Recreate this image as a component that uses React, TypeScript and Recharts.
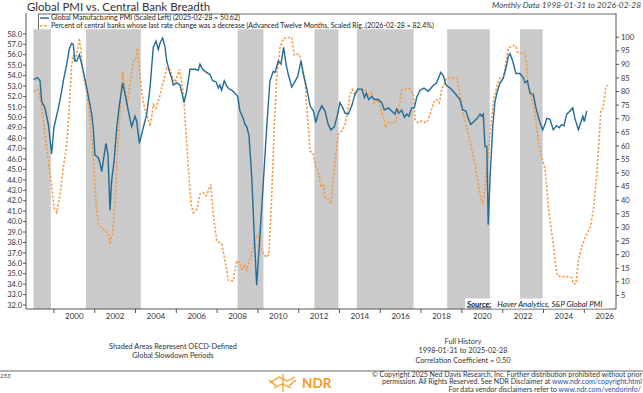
import React from 'react';
import { ComposedChart, Line, XAxis, YAxis, ReferenceArea } from 'recharts';

// Global Manufacturing PMI, [decimal year, value] — left scale
const pmiSeries: [number, number][] = [
  [1998.0, 53.6], [1998.19, 53.8], [1998.32, 53.5], [1998.4, 51.5], [1998.56, 50.9], [1998.73, 49.3],
  [1998.89, 46.5], [1999.0, 49.0], [1999.22, 50.9], [1999.38, 52.5], [1999.46, 53.5], [1999.63, 55.1],
  [1999.76, 56.6], [1999.87, 57.1], [1999.95, 57.0], [2000.03, 55.4], [2000.12, 55.4], [2000.25, 56.0],
  [2000.36, 55.1], [2000.48, 54.1], [2000.61, 52.8], [2000.77, 51.2], [2000.85, 50.3], [2000.93, 49.0],
  [2001.01, 46.4], [2001.18, 46.1], [2001.26, 45.6], [2001.34, 44.8], [2001.42, 45.8], [2001.55, 47.5],
  [2001.65, 46.4], [2001.75, 41.1], [2001.83, 43.9], [2001.95, 45.8], [2002.08, 49.0], [2002.21, 51.2],
  [2002.37, 53.3], [2002.49, 52.2], [2002.65, 50.6], [2002.81, 49.1], [2002.98, 50.1], [2003.06, 49.6],
  [2003.19, 47.5], [2003.38, 49.0], [2003.55, 50.3], [2003.71, 52.8], [2003.87, 56.7], [2004.0, 57.3],
  [2004.12, 56.5], [2004.2, 57.1], [2004.33, 57.6], [2004.45, 56.7], [2004.53, 55.4], [2004.66, 54.4],
  [2004.77, 53.8], [2004.85, 53.1], [2005.02, 53.3], [2005.18, 53.1], [2005.38, 51.4], [2005.51, 52.5],
  [2005.67, 54.6], [2005.92, 54.6], [2006.08, 54.5], [2006.16, 55.1], [2006.29, 54.6], [2006.41, 54.4],
  [2006.65, 54.1], [2006.78, 53.5], [2006.95, 53.4], [2007.06, 52.8], [2007.14, 53.1], [2007.22, 52.6],
  [2007.35, 53.5], [2007.47, 53.0], [2007.6, 52.7], [2007.72, 52.6], [2007.88, 52.3], [2008.01, 52.0],
  [2008.12, 50.6], [2008.28, 49.9], [2008.37, 49.3], [2008.45, 49.1], [2008.56, 48.3], [2008.7, 44.2],
  [2008.82, 38.7], [2008.94, 33.9], [2009.1, 38.7], [2009.27, 43.9], [2009.43, 49.0], [2009.59, 53.5],
  [2009.75, 54.4], [2009.84, 54.3], [2010.0, 55.4], [2010.13, 55.1], [2010.26, 56.7], [2010.38, 55.1],
  [2010.49, 54.1], [2010.66, 52.9], [2010.78, 53.3], [2010.95, 53.9], [2011.11, 55.4], [2011.23, 54.1],
  [2011.39, 52.8], [2011.56, 51.1], [2011.72, 50.6], [2011.84, 49.5], [2011.96, 50.4], [2012.13, 51.1],
  [2012.29, 50.6], [2012.45, 49.3], [2012.58, 48.8], [2012.75, 49.1], [2012.91, 50.3], [2013.02, 51.4],
  [2013.14, 51.0], [2013.27, 50.4], [2013.43, 50.3], [2013.6, 51.1], [2013.76, 52.2], [2013.9, 52.7],
  [2014.1, 52.7], [2014.22, 51.9], [2014.31, 52.3], [2014.43, 51.7], [2014.58, 52.0], [2014.71, 51.7],
  [2014.9, 51.7], [2015.07, 51.4], [2015.2, 50.7], [2015.39, 50.9], [2015.56, 50.6], [2015.72, 50.3],
  [2015.8, 50.8], [2015.92, 50.4], [2016.05, 50.7], [2016.18, 50.0], [2016.3, 50.3], [2016.4, 50.1],
  [2016.54, 50.9], [2016.67, 50.9], [2016.78, 51.9], [2016.95, 52.6], [2017.14, 52.8], [2017.35, 52.5],
  [2017.57, 53.0], [2017.76, 53.3], [2017.96, 54.3], [2018.09, 54.0], [2018.22, 53.1], [2018.42, 52.8],
  [2018.58, 52.5], [2018.78, 52.0], [2018.91, 51.7], [2019.04, 50.7], [2019.2, 50.6], [2019.31, 49.9],
  [2019.43, 49.3], [2019.59, 49.6], [2019.75, 49.9], [2019.89, 50.3], [2019.97, 50.1], [2020.05, 50.3],
  [2020.13, 47.2], [2020.22, 47.2], [2020.29, 39.7], [2020.38, 44.2], [2020.51, 49.0], [2020.62, 51.5],
  [2020.74, 52.5], [2020.87, 53.3], [2020.95, 53.5], [2021.03, 53.8], [2021.16, 54.7], [2021.28, 55.9],
  [2021.36, 56.1], [2021.49, 55.4], [2021.65, 54.2], [2021.84, 54.2], [2022.01, 53.8], [2022.09, 53.3],
  [2022.21, 53.5], [2022.34, 52.3], [2022.5, 52.2], [2022.63, 50.9], [2022.75, 50.0], [2022.86, 49.3],
  [2022.96, 48.8], [2023.07, 49.3], [2023.16, 49.9], [2023.32, 49.8], [2023.48, 48.8], [2023.64, 49.2],
  [2023.77, 49.0], [2023.89, 49.3], [2024.0, 49.2], [2024.14, 50.3], [2024.3, 50.6], [2024.43, 50.9],
  [2024.54, 49.9], [2024.71, 48.8], [2024.83, 49.5], [2024.93, 50.1], [2025.0, 49.6], [2025.12, 50.62],
];

// % of central banks whose last rate change was a decrease (advanced 12m) — right scale
const breadthSeries: [number, number][] = [
  [1998.0, 80.1], [1998.24, 80.7], [1998.4, 74.6], [1998.56, 64.2], [1998.73, 54.5], [1998.89, 45.9],
  [1999.0, 37.4], [1999.14, 35.5], [1999.3, 42.2], [1999.46, 52.0], [1999.63, 60.6], [1999.76, 75.2],
  [1999.87, 89.9], [1999.95, 93.5], [2000.03, 91.1], [2000.15, 94.8], [2000.25, 99.6], [2000.31, 96.0],
  [2000.44, 86.2], [2000.57, 81.3], [2000.69, 75.2], [2000.85, 63.0], [2000.97, 50.8], [2001.06, 38.6],
  [2001.18, 31.2], [2001.34, 30.0], [2001.5, 28.8], [2001.64, 28.2], [2001.75, 24.5], [2001.88, 27.6],
  [2002.0, 39.8], [2002.11, 56.9], [2002.24, 72.8], [2002.37, 87.4], [2002.49, 81.3], [2002.57, 74.6],
  [2002.73, 82.5], [2002.89, 91.1], [2003.02, 92.3], [2003.09, 96.0], [2003.19, 88.6], [2003.3, 80.1],
  [2003.47, 72.8], [2003.58, 71.0], [2003.71, 67.3], [2003.79, 70.3], [2003.87, 75.2], [2004.0, 73.9],
  [2004.17, 77.7], [2004.33, 82.5], [2004.53, 88.6], [2004.69, 88.1], [2004.82, 85.0], [2004.94, 83.4],
  [2005.05, 85.5], [2005.15, 88.1], [2005.27, 83.4], [2005.35, 78.9], [2005.46, 66.7], [2005.59, 52.0],
  [2005.72, 38.6], [2005.83, 35.5], [2006.0, 36.5], [2006.16, 42.2], [2006.32, 42.8], [2006.46, 41.6],
  [2006.57, 43.4], [2006.69, 45.9], [2006.81, 34.9], [2006.98, 25.2], [2007.14, 24.2], [2007.22, 24.0],
  [2007.39, 17.8], [2007.55, 10.5], [2007.79, 10.3], [2007.96, 17.8], [2008.12, 16.5], [2008.24, 14.3],
  [2008.33, 16.3], [2008.45, 14.3], [2008.56, 17.2], [2008.7, 20.3], [2008.82, 25.2], [2008.94, 27.0],
  [2009.05, 26.4], [2009.15, 22.7], [2009.27, 20.3], [2009.43, 19.0], [2009.54, 20.3], [2009.68, 42.2],
  [2009.8, 66.7], [2009.92, 85.0], [2010.08, 96.0], [2010.25, 99.6], [2010.49, 99.9], [2010.66, 99.9],
  [2010.78, 93.5], [2010.95, 93.8], [2011.06, 93.5], [2011.18, 88.6], [2011.31, 83.8], [2011.39, 75.2],
  [2011.47, 66.7], [2011.56, 58.1], [2011.72, 56.9], [2011.84, 52.0], [2011.96, 50.8], [2012.09, 44.7],
  [2012.21, 46.0], [2012.29, 41.0], [2012.45, 40.4], [2012.58, 38.6], [2012.65, 44.7], [2012.78, 54.5],
  [2012.94, 64.2], [2013.11, 65.5], [2013.27, 67.9], [2013.4, 72.8], [2013.51, 78.9], [2013.63, 80.7],
  [2013.76, 78.9], [2013.9, 81.0], [2014.1, 80.7], [2014.26, 80.7], [2014.42, 78.9], [2014.58, 79.9],
  [2014.71, 75.8], [2014.9, 77.0], [2015.04, 72.8], [2015.15, 71.0], [2015.26, 66.7], [2015.39, 68.5],
  [2015.56, 68.5], [2015.72, 68.7], [2015.88, 72.8], [2016.05, 80.7], [2016.3, 81.0], [2016.46, 80.9],
  [2016.62, 78.9], [2016.7, 69.7], [2016.86, 68.5], [2017.03, 69.1], [2017.27, 68.5], [2017.44, 71.5],
  [2017.6, 75.8], [2017.76, 77.0], [2017.89, 75.8], [2018.01, 80.7], [2018.12, 82.5], [2018.25, 85.0],
  [2018.5, 85.0], [2018.74, 85.0], [2018.87, 80.7], [2018.99, 74.0], [2019.24, 66.7], [2019.48, 59.3],
  [2019.64, 53.2], [2019.8, 45.9], [2019.92, 41.0], [2020.02, 38.6], [2020.13, 44.7], [2020.29, 56.9],
  [2020.46, 70.3], [2020.57, 77.7], [2020.74, 82.5], [2020.87, 85.0], [2021.03, 85.0], [2021.16, 91.1],
  [2021.28, 96.0], [2021.4, 96.6], [2021.52, 97.0], [2021.65, 96.6], [2021.76, 94.1], [2021.93, 94.1],
  [2022.09, 94.1], [2022.17, 89.9], [2022.25, 81.3], [2022.34, 80.1], [2022.5, 75.2], [2022.63, 69.1],
  [2022.75, 61.8], [2022.91, 55.7], [2023.07, 52.0], [2023.16, 44.7], [2023.24, 37.4], [2023.32, 32.5],
  [2023.48, 23.9], [2023.56, 17.8], [2023.68, 12.3], [2023.89, 11.9], [2024.14, 11.9], [2024.38, 11.6],
  [2024.46, 9.3], [2024.59, 9.3], [2024.71, 17.8], [2024.87, 22.7], [2025.04, 26.4], [2025.29, 30.0],
  [2025.44, 36.1], [2025.6, 48.4], [2025.73, 63.0], [2025.81, 72.8], [2025.92, 74.0], [2026.06, 81.3],
  [2026.16, 82.4],
];

// OECD-defined global slowdown periods
const slowdowns: [number, number][] = [
  [1998.0, 1998.85], [2000.57, 2003.26], [2008.0, 2009.27], [2011.77, 2012.95],
  [2013.85, 2016.63], [2018.28, 2020.37], [2021.85, 2022.96],
];

const yearTicks = [
  1999, 2000, 2001, 2002, 2003, 2004, 2005, 2006, 2007, 2008, 2009, 2010, 2011, 2012,
  2013, 2014, 2015, 2016, 2017, 2018, 2019, 2020, 2021, 2022, 2023, 2024, 2025, 2026,
];
const leftTicks = [
  32, 33, 34, 35, 36, 37, 38, 39, 40, 41, 42, 43, 44, 45, 46, 47, 48, 49, 50, 51, 52, 53,
  54, 55, 56, 57, 58,
];
const rightTicks = [5, 10, 15, 20, 25, 30, 35, 40, 45, 50, 55, 60, 65, 70, 75, 80, 85, 90, 95, 100];

const BLUE = '#216c97';
const ORANGE = '#f39a45';
const FONT = 'Lato, "Open Sans", sans-serif';

const pmiData = pmiSeries.map(([t, v]) => ({ t, v }));
const breadthData = breadthSeries.map(([t, v]) => ({ t, v }));

function YearTick(props: any) {
  const { x, y, payload } = props;
  const yr = payload.value;
  if (yr % 2 === 1) {
    return <line x1={x} x2={x} y1={y} y2={y + 4} stroke="#555" strokeWidth={1} />;
  }
  return (
    <text x={x} y={y + 10} textAnchor="middle" fontSize={8} fill="#333" fontFamily={FONT}>
      {yr}
    </text>
  );
}

export default function App() {
  return (
    <div
      style={{
        position: 'absolute',
        left: 0,
        top: 0,
        width: 643,
        height: 393,
        background: '#fff',
        overflow: 'hidden',
        fontFamily: FONT,
      }}
    >
      <ComposedChart width={643} height={393} margin={{ top: 13, right: 0, bottom: 66, left: 0 }}>
        <XAxis
          dataKey="t"
          type="number"
          domain={[1997.632, 2026.554]}
          allowDataOverflow
          ticks={yearTicks}
          interval={0}
          tick={<YearTick />}
          tickLine={false}
          tickSize={0}
          tickMargin={0}
          height={18}
          axisLine={{ stroke: '#555' }}
        />
        <YAxis
          yAxisId="left"
          width={26}
          domain={[31.62, 60.0]}
          allowDataOverflow
          ticks={leftTicks}
          interval={0}
          tickFormatter={(v: number) => v.toFixed(1)}
          tick={{ fontSize: 7.5, fill: '#333', fontFamily: FONT }}
          tickSize={3}
          tickMargin={1}
          tickLine={{ stroke: '#555' }}
          axisLine={{ stroke: '#555' }}
        />
        <YAxis
          yAxisId="right"
          orientation="right"
          width={27}
          domain={[0, 108.9]}
          allowDataOverflow
          ticks={rightTicks}
          interval={0}
          tick={{ fontSize: 7.5, fill: '#333', fontFamily: FONT }}
          tickSize={3}
          tickMargin={2}
          tickLine={{ stroke: '#555' }}
          axisLine={{ stroke: '#555' }}
        />
        {slowdowns.map(([a, b]) => (
          <ReferenceArea
            key={a}
            yAxisId="left"
            x1={a}
            x2={b}
            y1={31.62}
            y2={58.45}
            fill="#cacaca"
            fillOpacity={1}
            stroke="none"
          />
        ))}
        <Line
          data={breadthData}
          yAxisId="right"
          dataKey="v"
          type="linear"
          stroke={ORANGE}
          strokeWidth={1.6}
          strokeDasharray="2.2 1.8"
          dot={false}
          isAnimationActive={false}
        />
        <Line
          data={pmiData}
          yAxisId="left"
          dataKey="v"
          type="linear"
          stroke={BLUE}
          strokeWidth={1.4}
          dot={false}
          isAnimationActive={false}
        />
      </ComposedChart>

      <svg
        width={643}
        height={393}
        style={{ position: 'absolute', left: 0, top: 0, pointerEvents: 'none' }}
        fontFamily={FONT}
      >
        <text x={27} y={11} fontSize={11.5} fill="#333">
          Global PMI vs. Central Bank Breadth
        </text>
        <text x={641} y={8} fontSize={8.3} fill="#444" fontStyle="italic" textAnchor="end">
          Monthly Data 1998-01-31 to 2026-02-28
        </text>

        {/* legend box */}
        <line x1={38} x2={616} y1={14} y2={14} stroke="#666" strokeWidth={1} />
        <line x1={38.5} x2={38.5} y1={14} y2={29} stroke="#666" strokeWidth={1} />
        <line x1={40} x2={49} y1={18} y2={18} stroke={BLUE} strokeWidth={1.5} />
        <text x={51} y={20.4} fontSize={7} fill="#222">
          Global Manufacturing PMI (Scaled Left) (2025-02-28 = 50.62)
        </text>
        <line x1={40} x2={49} y1={25.7} y2={25.7} stroke={ORANGE} strokeWidth={1.6} strokeDasharray="2.5 2" />
        <text x={51} y={28.2} fontSize={7} fill="#222">
          Percent of central banks whose last rate change was a decrease (Advanced Twelve Months, Scaled Rig..(2026-02-28 = 82.4%)
        </text>

        {/* source box */}
        <rect x={465} y={298.5} width={144} height={10} fill="#fff" />
        <text x={467} y={306.5} fontSize={7.8} fill="#222" fontStyle="italic">
          <tspan fontWeight="bold" textDecoration="underline">Source:</tspan>
          <tspan dx={6}>Haver Analytics, S&amp;P Global PMI</tspan>
        </text>

        {/* footer notes */}
        <text x={173} y={349} fontSize={7.3} fill="#333" textAnchor="middle">
          Shaded Areas Represent OECD-Defined
        </text>
        <text x={173} y={358} fontSize={7.3} fill="#333" textAnchor="middle">
          Global Slowdown Periods
        </text>
        <text x={463} y={344} fontSize={7.3} fill="#333" textAnchor="middle">
          Full History
        </text>
        <text x={463} y={353} fontSize={7.3} fill="#333" textAnchor="middle">
          1998-01-31 to 2025-02-28
        </text>
        <text x={463} y={362.5} fontSize={7.3} fill="#333" textAnchor="middle">
          Correlation Coefficient = 0.50
        </text>

        <line x1={0} x2={643} y1={371} y2={371} stroke="#9a9a9a" strokeWidth={1.5} />
        <text x={0} y={378} fontSize={6} fill="#333" fontStyle="italic">
          253
        </text>

        {/* NDR logo */}
        <g stroke="#f39a1e" strokeWidth={1.2} fill="none">
          <path d="M270 383 L279 377 L287 381 L295 377" />
          <path d="M274 388 L282 384 L291 388" />
          <path d="M283 374 L283 392" />
          <path d="M269 380 L276 386 M296 380 L289 386" />
        </g>
        <text x={302} y={388} fontSize={13.5} fontWeight="bold" fill="#f39a1e">
          NDR
        </text>

        <text x={642} y={376.8} fontSize={7} fill="#333" textAnchor="end">
          © Copyright 2025 Ned Davis Research, Inc. Further distribution prohibited without prior
        </text>
        <text x={642} y={384.4} fontSize={7} fill="#333" textAnchor="end">
          permission. All Rights Reserved. See NDR Disclaimer at{' '}
          <tspan fill="#1d4fa8">www.ndr.com/copyright.html</tspan>
        </text>
        <text x={641} y={392} fontSize={7} fill="#333" textAnchor="end">
          For data vendor disclaimers refer to <tspan fill="#1d4fa8">www.ndr.com/vendorinfo/</tspan>
        </text>
      </svg>
    </div>
  );
}
